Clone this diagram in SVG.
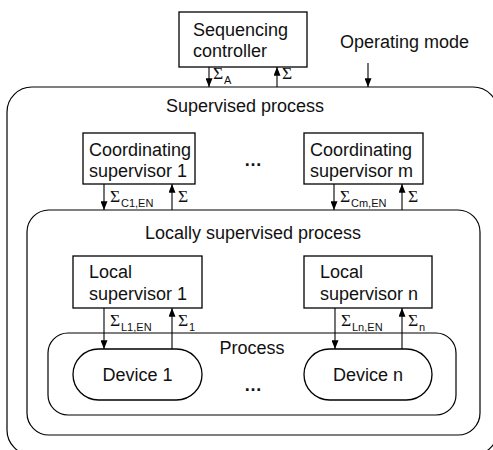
<svg xmlns="http://www.w3.org/2000/svg" width="493" height="450" viewBox="0 0 493 450">
<style>
.box{fill:#fff;stroke:#000;stroke-width:1.3}
.area{fill:none;stroke:#000;stroke-width:1.2}
.t{font-family:"Liberation Sans",Arial,sans-serif;font-size:18px;fill:#111}
.c{text-anchor:middle}
.dots{font-weight:bold}
.sig{font-family:"Liberation Serif","Times New Roman",serif;font-size:17.5px;fill:#111}
.sub{font-family:"Liberation Sans",Arial,sans-serif;font-size:11px;fill:#111}
.ln{stroke:#000;stroke-width:1.1;fill:none}
.dn{marker-end:url(#ah)}
</style>
<defs>
<marker id="ah" viewBox="0 0 10 8" refX="10" refY="4" markerWidth="9" markerHeight="7" orient="auto" markerUnits="userSpaceOnUse"><path d="M0,0 L10,4 L0,8 z" fill="#000"/></marker>
</defs>
<rect width="493" height="450" fill="#fff"/>

<g id="supervised-process">
<rect class="area" x="7" y="87" width="491" height="368" rx="25" ry="25"/>
<text class="t c" x="245" y="112">Supervised process</text>
</g>
<g id="locally-supervised-process">
<rect class="area" x="27" y="210" width="453" height="225" rx="22" ry="22"/>
<text class="t c" x="253" y="239">Locally supervised process</text>
</g>
<g id="process">
<rect class="area" x="48" y="333" width="408" height="82" rx="20" ry="20"/>
<text class="t c" x="252" y="354">Process</text>
<text class="t c dots" x="253" y="391">…</text>
</g>

<g id="sequencing-controller">
<rect class="box" x="179" y="12" width="128" height="55"/>
<text class="t" x="193" y="36">Sequencing</text>
<text class="t" x="193" y="57">controller</text>
</g>
<g id="operating-mode">
<text class="t" x="340" y="48">Operating mode</text>
</g>

<g id="coordinating-supervisor-1">
<rect class="box" x="83" y="133" width="112" height="51"/>
<text class="t" x="89" y="156">Coordinating</text>
<text class="t" x="89" y="177">supervisor 1</text>
</g>
<g id="coord-dots"><text class="t c dots" x="253" y="166">…</text></g>
<g id="coordinating-supervisor-m">
<rect class="box" x="304" y="133" width="119" height="51"/>
<text class="t" x="310" y="156">Coordinating</text>
<text class="t" x="310" y="177">supervisor m</text>
</g>

<g id="local-supervisor-1">
<rect class="box" x="73" y="256" width="129" height="52"/>
<text class="t" x="89" y="278">Local</text>
<text class="t" x="89" y="300">supervisor 1</text>
</g>
<g id="local-supervisor-n">
<rect class="box" x="304" y="256" width="128" height="52"/>
<text class="t" x="320" y="278">Local</text>
<text class="t" x="320" y="300">supervisor n</text>
</g>

<g id="device-1">
<rect class="box" x="73" y="349" width="129" height="51" rx="25.5" ry="25.5"/>
<text class="t c" x="137.5" y="381">Device 1</text>
</g>
<g id="device-n">
<rect class="box" x="304" y="349" width="128" height="51" rx="25.5" ry="25.5"/>
<text class="t c" x="368" y="381">Device n</text>
</g>

<g id="connectors">
<line class="ln dn" x1="209" y1="67" x2="209" y2="87"/>
<line class="ln dn" x1="277" y1="87" x2="277" y2="67"/>
<line class="ln dn" x1="368" y1="63" x2="368" y2="87"/>
<line class="ln dn" x1="104" y1="184" x2="104" y2="210"/>
<line class="ln dn" x1="172" y1="210" x2="172" y2="184"/>
<line class="ln dn" x1="334" y1="184" x2="334" y2="210"/>
<line class="ln dn" x1="402" y1="210" x2="402" y2="184"/>
<line class="ln dn" x1="104" y1="308" x2="104" y2="349"/>
<line class="ln dn" x1="172" y1="349" x2="172" y2="308"/>
<line class="ln dn" x1="335" y1="308" x2="335" y2="349"/>
<line class="ln dn" x1="402" y1="349" x2="402" y2="308"/>
</g>

<g id="labels">
<text class="sig" x="213" y="79">Σ</text><text class="sub" x="224" y="84">A</text>
<text class="sig" x="282" y="79">Σ</text>
<text class="sig" x="110" y="202">Σ</text><text class="sub" x="121" y="207">C1,EN</text>
<text class="sig" x="178" y="202">Σ</text>
<text class="sig" x="340" y="202">Σ</text><text class="sub" x="351" y="207">Cm,EN</text>
<text class="sig" x="408" y="202">Σ</text>
<text class="sig" x="110" y="326">Σ</text><text class="sub" x="121" y="331">L1,EN</text>
<text class="sig" x="178" y="326">Σ</text><text class="sub" x="189" y="331">1</text>
<text class="sig" x="341" y="326">Σ</text><text class="sub" x="352" y="331">Ln,EN</text>
<text class="sig" x="408" y="326">Σ</text><text class="sub" x="419" y="331">n</text>
</g>
</svg>
